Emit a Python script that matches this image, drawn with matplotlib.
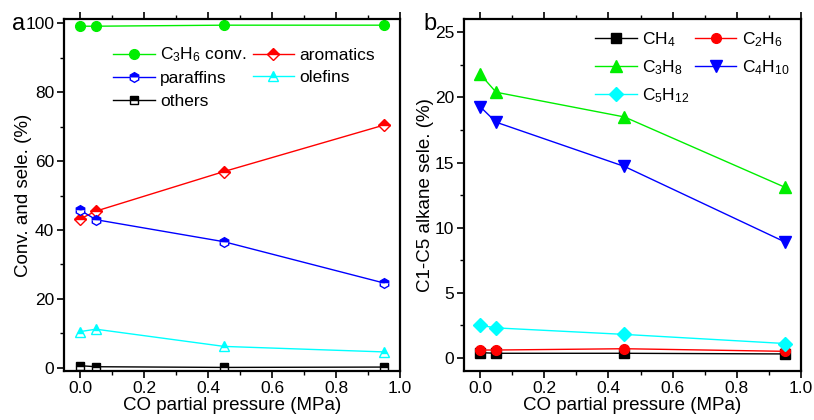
import numpy as np
import matplotlib.pyplot as plt
from matplotlib.ticker import MultipleLocator

plt.rcParams['font.family'] = ['Liberation Sans', 'DejaVu Sans']
plt.rcParams['font.size'] = 12
plt.rcParams['mathtext.fontset'] = 'custom'
plt.rcParams['mathtext.rm'] = 'Liberation Sans'
plt.rcParams['mathtext.it'] = 'Liberation Sans:italic'
plt.rcParams['mathtext.default'] = 'regular'

pressure = [0.0, 0.05, 0.45, 0.95]

# panel a
c3h6_conv = [99.2, 99.2, 99.5, 99.5]
aromatics = [43.2, 45.5, 57.0, 70.5]
paraffins = [45.8, 43.0, 36.6, 24.6]
olefins = [10.5, 11.2, 6.2, 4.6]
others = [0.6, 0.3, 0.1, 0.2]

# panel b
ch4 = [0.40, 0.35, 0.35, 0.30]
c2h6 = [0.60, 0.60, 0.70, 0.50]
c3h8 = [21.8, 20.4, 18.5, 13.1]
c4h10 = [19.3, 18.1, 14.7, 8.9]
c5h12 = [2.5, 2.3, 1.8, 1.1]

green = '#00ee00'

fig = plt.figure(figsize=(8.14, 4.2), dpi=100)
ax1 = fig.add_axes([0.0786, 0.117, 0.413, 0.837])
ax2 = fig.add_axes([0.570, 0.117, 0.414, 0.837])


def style_axes(ax):
    for s in ax.spines.values():
        s.set_linewidth(1.6)
    ax.tick_params(which='major', direction='out', length=5, width=1.2,
                   labelsize=12.5, pad=2, right=False)
    ax.tick_params(which='minor', direction='out', length=3, width=1.0)
    ax.tick_params(axis='x', which='both', top=True, labeltop=False)
    ax.xaxis.set_major_locator(MultipleLocator(0.2))
    ax.xaxis.set_minor_locator(MultipleLocator(0.1))
    ax.set_xlim(-0.05, 1.0)
    ax.set_xticks(np.arange(0, 1.01, 0.2))
    ax.set_xticklabels(['0.0', '0.2', '0.4', '0.6', '0.8', '1.0'])
    ax.set_xlabel('CO partial pressure (MPa)', fontsize=13.5, labelpad=1)


def row_order(handles, labels):
    # matplotlib fills legend columns first; the chart reads row by row
    idx = list(range(0, len(handles), 2)) + list(range(1, len(handles), 2))
    return [handles[i] for i in idx], [labels[i] for i in idx]


half = dict(fillstyle='top', markerfacecoloralt='white', markersize=7,
            linewidth=1.0, markeredgewidth=1.0)

ax1.plot(pressure, c3h6_conv, '-o', color=green, markersize=7,
         linewidth=1.0, label='C$_3$H$_6$ conv.')
ax1.plot(pressure, aromatics, '-D', color='red', label='aromatics',
         **{**half, 'markersize': 6})
ax1.plot(pressure, paraffins, '-h', color='blue', label='paraffins', **half)
ax1.plot(pressure, olefins, '-^', color='cyan', label='olefins', **half)
ax1.plot(pressure, others, '-s', color='black', label='others',
         **{**half, 'markersize': 6})
style_axes(ax1)
ax1.set_ylim(-0.9, 101.2)
ax1.yaxis.set_major_locator(MultipleLocator(20))
ax1.yaxis.set_minor_locator(MultipleLocator(10))
ax1.set_ylabel('Conv. and sele. (%)', fontsize=13.5)
ax1.yaxis.set_label_coords(-0.095, 0.5)
h, l = row_order(*ax1.get_legend_handles_labels())
ax1.legend(h, l, loc='upper left', bbox_to_anchor=(0.146, 0.925), ncol=2,
           frameon=False, fontsize=12.5, handlelength=2.4, columnspacing=0.35,
           handletextpad=0.3, labelspacing=0.4, borderaxespad=0, borderpad=0)
fig.text(0.015, 0.929, 'a', fontsize=17, va='baseline')

ax2.plot(pressure, ch4, '-s', color='black', markersize=7, linewidth=1.0,
         label='CH$_4$')
ax2.plot(pressure, c2h6, '-o', color='red', markersize=7, linewidth=1.0,
         label='C$_2$H$_6$')
ax2.plot(pressure, c3h8, '-^', color=green, markersize=8, linewidth=1.0,
         label='C$_3$H$_8$')
ax2.plot(pressure, c4h10, '-v', color='blue', markersize=8, linewidth=1.0,
         label='C$_4$H$_{10}$')
ax2.plot(pressure, c5h12, '-D', color='cyan', markersize=7, linewidth=1.0,
         label='C$_5$H$_{12}$')
style_axes(ax2)
ax2.set_ylim(-1.0, 26.0)
ax2.yaxis.set_major_locator(MultipleLocator(5))
ax2.yaxis.set_minor_locator(MultipleLocator(2.5))
ax2.set_ylabel('C1-C5 alkane sele. (%)', fontsize=13.5)
ax2.yaxis.set_label_coords(-0.090, 0.5)
h, l = row_order(*ax2.get_legend_handles_labels())
ax2.legend(h, l, loc='upper left', bbox_to_anchor=(0.389, 0.97), ncol=2,
           frameon=False, fontsize=12.5, handlelength=2.4, columnspacing=0.3,
           handletextpad=0.3, labelspacing=0.55, borderaxespad=0, borderpad=0)
fig.text(0.52, 0.929, 'b', fontsize=17, va='baseline')

fig.savefig('out.png', dpi=100)
